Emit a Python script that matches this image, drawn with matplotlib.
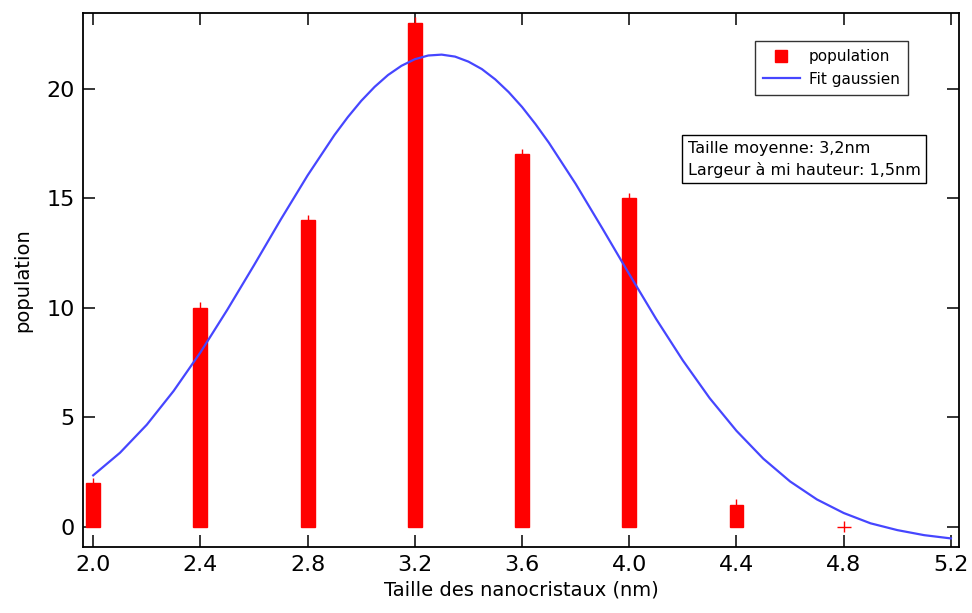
import matplotlib
matplotlib.use("Agg")
import matplotlib.pyplot as plt
from matplotlib.lines import Line2D

# histogramme des tailles
tailles = [2.0, 2.4, 2.8, 3.2, 3.6, 4.0, 4.4, 4.8]
population = [2, 10, 14, 23, 17, 15, 1, 0]
erreur = [0.25] * len(tailles)

# points du fit gaussien
fit_x = [2.0, 2.1, 2.2, 2.3, 2.4, 2.5, 2.6, 2.7, 2.8, 2.9, 2.95, 3.0, 3.05, 3.1,
         3.15, 3.2, 3.25, 3.3, 3.35, 3.4, 3.45, 3.5, 3.55, 3.6, 3.65, 3.7, 3.8,
         3.9, 4.0, 4.1, 4.2, 4.3, 4.4, 4.5, 4.6, 4.7, 4.8, 4.9, 5.0, 5.1, 5.2]
fit_y = [2.35, 3.38, 4.66, 6.20, 7.96, 9.90, 11.94, 14.03, 16.04, 17.88, 18.70,
         19.44, 20.08, 20.62, 21.04, 21.34, 21.51, 21.55, 21.46, 21.23, 20.89,
         20.42, 19.84, 19.16, 18.38, 17.53, 15.65, 13.61, 11.53, 9.49, 7.59,
         5.87, 4.38, 3.11, 2.07, 1.25, 0.63, 0.16, -0.15, -0.38, -0.53]

fig = plt.figure(figsize=(9.72, 6.13), dpi=100)
ax = fig.add_axes([0.0854, 0.1077, 0.9012, 0.8711])

ax.bar(tailles, population, width=0.052, color="red", edgecolor="red", linewidth=1, zorder=2)
ax.errorbar(tailles, population, yerr=erreur, fmt="none", ecolor="red", elinewidth=1, zorder=2)
ax.plot(fit_x, fit_y, color="#4646ff", linewidth=1.6, zorder=3)

ax.set_xlim(1.962, 5.23)
ax.set_ylim(-0.92, 23.45)
ax.set_xticks([2.0, 2.4, 2.8, 3.2, 3.6, 4.0, 4.4, 4.8, 5.2])
ax.set_xticklabels(["2.0", "2.4", "2.8", "3.2", "3.6", "4.0", "4.4", "4.8", "5.2"])
ax.set_yticks([0, 5, 10, 15, 20])
ax.tick_params(direction="in", length=8.5, width=1.1, labelsize=16, top=True, right=True, pad=6)
for s in ax.spines.values():
    s.set_linewidth(1.3)

ax.set_xlabel("Taille des nanocristaux (nm)", fontsize=14, labelpad=4)
ax.set_ylabel("population", fontsize=14, labelpad=10)

handles = [Line2D([], [], color="red", marker="s", linestyle="none", markersize=8),
           Line2D([], [], color="#4646ff", linewidth=1.6)]
leg = ax.legend(handles, ["population", "Fit gaussien"], loc="upper right",
                bbox_to_anchor=(0.942, 0.948), fontsize=11, frameon=True, fancybox=False,
                handlelength=2.4, borderpad=0.55, labelspacing=0.5, handletextpad=0.6,
                borderaxespad=0)
leg.get_frame().set_edgecolor("black")
leg.get_frame().set_linewidth(1.0)

ax.text(0.6906, 0.7257, "Taille moyenne: 3,2nm\nLargeur à mi hauteur: 1,5nm", transform=ax.transAxes,
        fontsize=11.5, va="center", ha="left", linespacing=1.45,
        bbox=dict(boxstyle="square,pad=0.35", facecolor="white", edgecolor="black", linewidth=1.0))

plt.savefig("out.png", dpi=100)
